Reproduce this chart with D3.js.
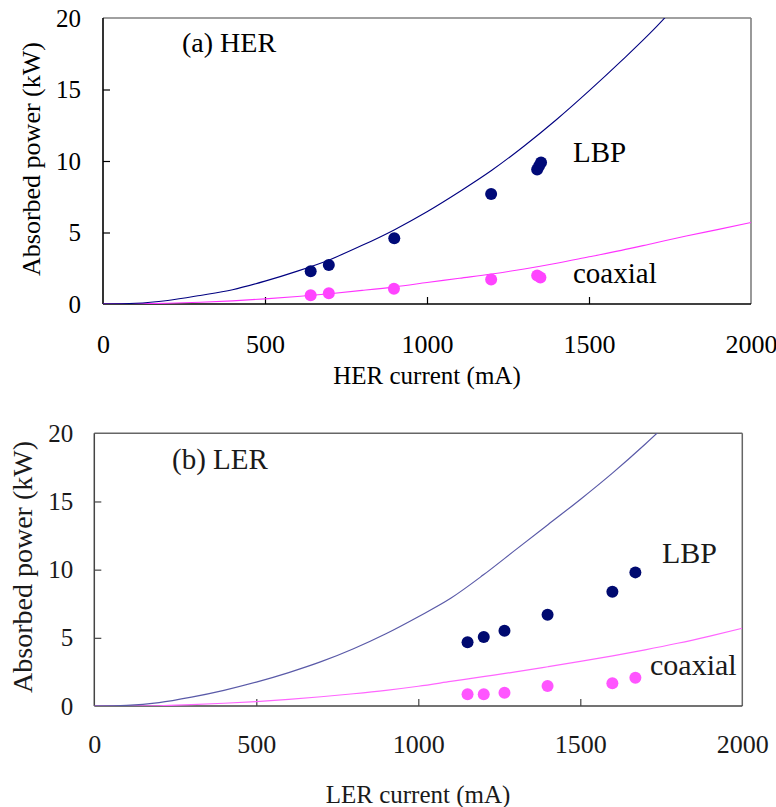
<!DOCTYPE html>
<html>
<head>
<meta charset="utf-8">
<script src="https://cdn.jsdelivr.net/npm/d3@7"></script>
<style>
  html, body { margin: 0; padding: 0; background: #fff; }
  svg { display: block; }
</style>
</head>
<body>
<script>
// ---------- data ----------
const xTicks = [0, 500, 1000, 1500, 2000];
const yTicks = [0, 5, 10, 15, 20];

// (a) HER
const herLbpCurveI = [0,100,200,300,400,500,600,700,800,900,1000,1100,1200,1300,1400,1500,1600,1700,1750];
const herLbpCurveP = [0,0.05,0.25,0.6,1.0,1.6,2.3,3.1,4.1,5.2,6.45,7.85,9.35,11.05,12.9,14.9,17.0,19.2,20.4];
const herCoaxCurveI = [0,100,200,300,400,500,600,700,800,900,1000,1100,1200,1300,1400,1500,1600,1700,1800,1900,2000];
const herCoaxCurveP = [0,0.01,0.05,0.12,0.22,0.36,0.52,0.72,0.95,1.2,1.5,1.8,2.1,2.45,2.85,3.3,3.75,4.25,4.75,5.22,5.7];
const herLbpI = [641, 697, 899, 1198, 1340, 1346, 1352];
const herLbpP = [2.29, 2.73, 4.59, 7.69, 9.4, 9.65, 9.9];
const herCoaxI = [641, 697, 898, 1198, 1340, 1350];
const herCoaxP = [0.61, 0.75, 1.07, 1.72, 2.0, 1.85];

// (b) LER
const lerLbpCurveI = [0,100,200,300,400,500,600,700,800,900,1000,1100,1200,1300,1400,1500,1600,1700,1750];
const lerLbpCurveP = [0,0.05,0.25,0.65,1.15,1.75,2.45,3.25,4.2,5.3,6.55,7.9,9.6,11.45,13.3,15.15,17.1,19.2,20.3];
const lerCoaxCurveI = [0,100,200,300,400,500,600,700,800,900,1000,1100,1200,1300,1400,1500,1600,1700,1800,1900,2000];
const lerCoaxCurveP = [0,0,0.02,0.1,0.2,0.32,0.48,0.68,0.9,1.15,1.45,1.8,2.15,2.5,2.88,3.27,3.68,4.12,4.6,5.13,5.7];
const lerLbpI = [1152, 1202, 1266, 1399, 1599, 1670];
const lerLbpP = [4.67, 5.06, 5.52, 6.69, 8.38, 9.80];
const lerCoaxI = [1152, 1202, 1266, 1399, 1599, 1670];
const lerCoaxP = [0.86, 0.86, 0.98, 1.47, 1.66, 2.08];

const yTitle = "Absorbed power (kW)";

// ---------- drawing ----------
const FONT = '"Liberation Serif"';
const W = 776, H = 807;
const svg = d3.select("body").append("svg").attr("width", W).attr("height", H)
  .attr("font-family", FONT);
const zip = (a, b) => a.map((v, i) => [v, b[i]]);

function panel(cfg) {
  const x = d3.scaleLinear().domain([0, 2000]).range([cfg.left, cfg.right]);
  const y = d3.scaleLinear().domain([0, 20]).range([cfg.bottom, cfg.top]);
  const g = svg.append("g").attr("font-family", FONT);
  const clipId = "clip" + cfg.id;
  svg.append("clipPath").attr("id", clipId).append("rect")
    .attr("x", cfg.left).attr("y", cfg.top)
    .attr("width", cfg.right - cfg.left).attr("height", cfg.bottom - cfg.top);

  // axes (ticks inward)
  const xa = g.append("g").attr("transform", `translate(0,${cfg.bottom})`)
    .call(d3.axisBottom(x).tickValues(xTicks).tickSize(-7).tickPadding(cfg.xPad).tickFormat(d3.format("d")));
  xa.attr("font-family", FONT);
  xa.select(".domain").remove();
  xa.selectAll("line").attr("stroke", cfg.tickColor).attr("stroke-width", 1.2)
    .filter(d => d === 0 || d === 2000).remove();
  xa.selectAll("text").attr("font-family", FONT).attr("font-size", cfg.xTickFs).attr("fill", cfg.textColor);

  const ya = g.append("g").attr("transform", `translate(${cfg.left},0)`)
    .call(d3.axisLeft(y).tickValues(yTicks).tickSize(-7).tickPadding(cfg.yPad));
  ya.attr("font-family", FONT);
  ya.select(".domain").remove();
  ya.selectAll("line").attr("stroke", cfg.tickColor).attr("stroke-width", 1.2)
    .filter(d => d === 0 || d === 20).remove();
  ya.selectAll("text").attr("font-family", FONT).attr("font-size", cfg.yTickFs).attr("fill", cfg.textColor);

  // frame
  const fr = g.append("g").attr("fill", "none");
  fr.append("line").attr("x1", cfg.left).attr("x2", cfg.right).attr("y1", cfg.top).attr("y2", cfg.top)
    .attr("stroke", cfg.frameTR).attr("stroke-width", cfg.frameW);
  fr.append("line").attr("x1", cfg.right).attr("x2", cfg.right).attr("y1", cfg.top).attr("y2", cfg.bottom)
    .attr("stroke", cfg.frameTR).attr("stroke-width", cfg.frameW);
  fr.append("line").attr("x1", cfg.left).attr("x2", cfg.left).attr("y1", cfg.top).attr("y2", cfg.bottom)
    .attr("stroke", cfg.frameBL).attr("stroke-width", cfg.frameW);
  fr.append("line").attr("x1", cfg.left).attr("x2", cfg.right).attr("y1", cfg.bottom).attr("y2", cfg.bottom)
    .attr("stroke", cfg.frameBL).attr("stroke-width", cfg.frameW);

  // curves
  const line = d3.line().x(d => x(d[0])).y(d => y(d[1])).curve(d3.curveMonotoneX);
  const cg = g.append("g").attr("clip-path", `url(#${clipId})`).attr("fill", "none");
  cg.append("path").datum(zip(cfg.coaxCurveI, cfg.coaxCurveP)).attr("d", line)
    .attr("stroke", cfg.coaxLine).attr("stroke-width", cfg.lineW);
  cg.append("path").datum(zip(cfg.lbpCurveI, cfg.lbpCurveP)).attr("d", line)
    .attr("stroke", cfg.lbpLine).attr("stroke-width", cfg.lineW);

  // points
  g.append("g").selectAll("circle").data(zip(cfg.coaxI, cfg.coaxP)).join("circle")
    .attr("cx", d => x(d[0])).attr("cy", d => y(d[1])).attr("r", 6).attr("fill", cfg.coaxDot);
  g.append("g").selectAll("circle").data(zip(cfg.lbpI, cfg.lbpP)).join("circle")
    .attr("cx", d => x(d[0])).attr("cy", d => y(d[1])).attr("r", 6).attr("fill", cfg.lbpDot);

  // labels
  const txt = (sel) => sel.attr("font-family", FONT).attr("fill", cfg.textColor);
  g.append("text").call(txt).attr("x", cfg.panelLabel[1]).attr("y", cfg.panelLabel[2])
    .attr("font-size", cfg.annFs).text(cfg.panelLabel[0]);
  g.append("text").call(txt).attr("x", cfg.lbpLabel[0]).attr("y", cfg.lbpLabel[1])
    .attr("font-size", cfg.annFs + 1).text("LBP");
  g.append("text").call(txt).attr("x", cfg.coaxLabel[0]).attr("y", cfg.coaxLabel[1])
    .attr("font-size", cfg.annFs + 1).text("coaxial");

  g.append("text").call(txt).attr("x", cfg.xTitle[1]).attr("y", cfg.xTitle[2]).attr("text-anchor", "middle")
    .attr("font-size", cfg.xTitleFs).text(cfg.xTitle[0]);
  g.append("text").call(txt).attr("transform", `translate(${cfg.yTitlePos[0]},${cfg.yTitlePos[1]}) rotate(-90)`)
    .attr("text-anchor", "middle").attr("font-size", cfg.yTitleFs).text(yTitle);
}

panel({
  id: "a", left: 103, right: 751, top: 18, bottom: 304,
  xPad: 31, yPad: 22, xTickFs: 26, yTickFs: 25,
  tickColor: "#000", textColor: "#000",
  frameTR: "#808080", frameBL: "#000", frameW: 1.6,
  lbpCurveI: herLbpCurveI, lbpCurveP: herLbpCurveP,
  coaxCurveI: herCoaxCurveI, coaxCurveP: herCoaxCurveP,
  lbpI: herLbpI, lbpP: herLbpP, coaxI: herCoaxI, coaxP: herCoaxP,
  lbpLine: "#000080", coaxLine: "#ff33ff", lineW: 1.1,
  lbpDot: "#000a78", coaxDot: "#ff44ff",
  panelLabel: ["(a) HER", 182, 52], annFs: 28,
  lbpLabel: [573, 162], coaxLabel: [573, 283],
  xTitle: ["HER current (mA)", 427, 384], xTitleFs: 25,
  yTitlePos: [40, 159], yTitleFs: 26
});

panel({
  id: "b", left: 94.3, right: 742.3, top: 433.3, bottom: 706,
  xPad: 29, yPad: 21, xTickFs: 26, yTickFs: 25,
  tickColor: "#444", textColor: "#1a1a1a",
  frameTR: "#666", frameBL: "#444", frameW: 1.5,
  lbpCurveI: lerLbpCurveI, lbpCurveP: lerLbpCurveP,
  coaxCurveI: lerCoaxCurveI, coaxCurveP: lerCoaxCurveP,
  lbpI: lerLbpI, lbpP: lerLbpP, coaxI: lerCoaxI, coaxP: lerCoaxP,
  lbpLine: "#5a5aa8", coaxLine: "#ff66ff", lineW: 1.2,
  lbpDot: "#000a70", coaxDot: "#ff55ff",
  panelLabel: ["(b) LER", 172, 469], annFs: 29,
  lbpLabel: [662, 563], coaxLabel: [650, 675],
  xTitle: ["LER current (mA)", 418, 803], xTitleFs: 25,
  yTitlePos: [32, 567], yTitleFs: 28
});
</script>
</body>
</html>
